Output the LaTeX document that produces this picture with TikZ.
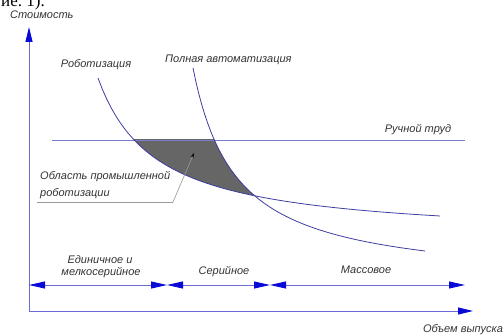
\documentclass[tikz,border=0pt]{standalone}
\usepackage{fontspec}
\setmainfont{Liberation Sans}
\newfontfamily\pageserif{Liberation Serif}
\usepackage{tikz}
\usetikzlibrary{arrows.meta}
\definecolor{axisblue}{HTML}{6A6AD2}
\definecolor{tipblue}{HTML}{0A0AD8}
\definecolor{curveblue}{HTML}{3E3EA0}
\definecolor{handline}{HTML}{7C7CD4}
\definecolor{zoneshade}{HTML}{666666}
\definecolor{txtgray}{HTML}{333333}

\begin{document}
\begin{tikzpicture}[
  x=1pt, y=-1pt,
  every node/.style={font=\itshape\fontsize{11}{12}\selectfont, text=txtgray, inner sep=0pt},
  axisline/.style={axisblue, line width=0.9pt, -{Triangle[length=15pt, width=7pt, color=tipblue]}},
  dimline/.style={axisblue, line width=0.9pt, {Triangle[length=16pt, width=7pt, color=tipblue]}-{Triangle[length=16pt, width=7pt, color=tipblue]}},
  costcurve/.style={curveblue, line width=0.8pt},
  leader/.style={gray!80, line width=0.6pt, -{Stealth[length=5pt, width=3pt, color=black]}}
]
\useasboundingbox (0,0) rectangle (503,336);

% cut-off text of the page above
\begin{scope}
  \clip (0,0) rectangle (503,336);
  \node[font=\pageserif\fontsize{17}{18}\selectfont, text=black, anchor=base west] (pagefrag) at (1,7) {ие.~1).};
\end{scope}

% Axes
\coordinate (O) at (29,311);
\coordinate (ytip) at (29,27);
\coordinate (xtip) at (473,311);
\draw[axisline] (O) -- (ytip);
\draw[axisline] (O) -- (xtip);
\node[anchor=west] (ylab) at (10,15) {Стоимость};
\node (xlab) at (463,330) {Объем выпуска};

% Shaded zone between the curves under the manual labour line
\begin{scope}
  \clip (0,140) rectangle (503,336);
  \clip plot[domain=98:440, samples=80] (\x, {239.4 - 9362/(\x-40)})
    -- (503,216) -- (503,0) -- (98,0) -- cycle;
  \clip plot[domain=193:425, samples=80] (\x, {284.9 - 9327/(\x-150)})
    -- (425,336) -- (0,336) -- (0,68) -- cycle;
  \fill[zoneshade] (0,0) rectangle (503,336);
\end{scope}

% Manual labour
\coordinate (hand1) at (52,140);
\coordinate (hand2) at (465,140);
\draw[handline, line width=0.9pt] (hand1) -- (hand2);
\node (handlab) at (418,130) {Ручной труд};

% Cost curves
\draw[costcurve] plot[domain=98:440, samples=80] (\x, {239.4 - 9362/(\x-40)});
\draw[costcurve] plot[domain=193:425, samples=80] (\x, {284.9 - 9327/(\x-150)});
\node (robolab) at (96,65) {Роботизация};
\node[anchor=west] (autolab) at (165,60) {Полная автоматизация};

% Zone label with leader
\node[anchor=west] (zone1) at (40,177) {Область промышленной};
\node[anchor=west] (zone2) at (40,194) {роботизации};
\coordinate (lead1) at (37,202);
\coordinate (lead2) at (173,202);
\coordinate (lead3) at (194,153);
\draw[gray!80, line width=0.6pt] (lead1) -- (lead2);
\draw[leader] (lead2) -- (lead3);

% Production types
\coordinate (d0) at (29,285);
\coordinate (d1) at (167,285);
\coordinate (d2) at (270,285);
\coordinate (d3) at (465,285);
\draw[dimline] (d0) -- (d1);
\draw[dimline] (d1) -- (d2);
\draw[dimline] (d2) -- (d3);
\node (single1) at (100,260) {Единичное и};
\node (single2) at (101,273) {мелкосерийное};
\node (serial) at (224,272) {Серийное};
\node (mass) at (366,270) {Массовое};

\end{tikzpicture}
\end{document}
